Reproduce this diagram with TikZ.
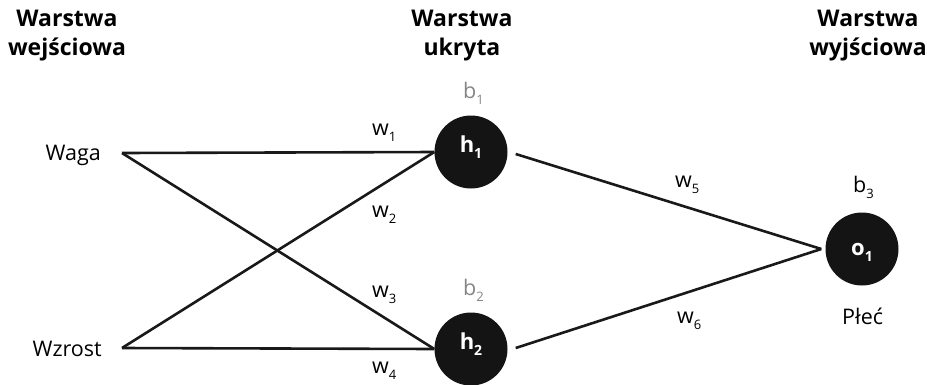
\documentclass[tikz,border=0pt]{standalone}
\usepackage{fontspec}
\setmainfont{Open Sans}
% letter with a lowered index
\newcommand\idx[2]{#1\raisebox{-6.5pt}{\fontsize{13}{14}\selectfont #2}}
\newcommand\bidx[2]{#1\raisebox{-6pt}{\fontsize{14}{15}\selectfont #2}}
\begin{document}
\begin{tikzpicture}[x=1pt,y=-1pt,
  every node/.style={font=\fontsize{21.5}{24}\selectfont},
  header/.style={align=center,font=\fontsize{23}{29}\selectfont\bfseries},
  neuron/.style={circle,fill=black!92,minimum size=73pt,inner sep=0pt,
    text=white,font=\fontsize{22}{24}\selectfont\bfseries,
    text height=16pt,text depth=16pt},
  tag/.style={anchor=base west,inner sep=0pt},
  inname/.style={anchor=base east,inner sep=0pt},
  wire/.style={line width=2.6pt,black!90},
  bias/.style={tag,text=black!48},
]
\useasboundingbox (0,0) rectangle (927,384);

% layer headings
\node[header] (hin)  at (67,36)  {Warstwa\\wejściowa};
\node[header] (hhid) at (462,36) {Warstwa\\ukryta};
\node[header] (hout) at (868,36) {Warstwa\\wyjściowa};

% inputs
\node[inname] (waga)   at (101,160) {Waga};
\node[inname] (wzrost) at (102,356) {Wzrost};
\coordinate (iw) at (122,153);
\coordinate (iz) at (122,348);

% neurons
\node[neuron] (h1) at (471,152) {\bidx{h}{1}};
\node[neuron] (h2) at (471,349) {\bidx{h}{2}};
\node[neuron,text height=19pt,text depth=7pt] (o1) at (862,249) {\bidx{o}{1}};

% biases and output name
\node[bias] (b1) at (463,98)  {\idx{b}{1}};
\node[bias] (b2) at (463,295) {\idx{b}{2}};
\node[tag]  (b3) at (853,192) {\idx{b}{3}};
\node[tag]  (plec) at (842,324) {Płeć};

% connections input -> hidden
\draw[wire] (iw) -- (h1.west);
\draw[wire] (iw) -- (h2.west);
\draw[wire] (iz) -- (h1.west);
\draw[wire] (iz) -- (h2.west);

% connections hidden -> output
\draw[wire] ([shift={(8,2)}]h1.east) -- ([xshift=-4pt]o1.west);
\draw[wire] ([shift={(8,-1)}]h2.east) -- ([xshift=-4pt]o1.west);

% weights
\node[tag] (w1) at (372,135) {\idx{w}{1}};
\node[tag] (w2) at (372,217) {\idx{w}{2}};
\node[tag] (w3) at (372,297) {\idx{w}{3}};
\node[tag] (w4) at (372,373) {\idx{w}{4}};
\node[tag] (w5) at (675,187) {\idx{w}{5}};
\node[tag] (w6) at (677,323) {\idx{w}{6}};
\end{tikzpicture}
\end{document}
